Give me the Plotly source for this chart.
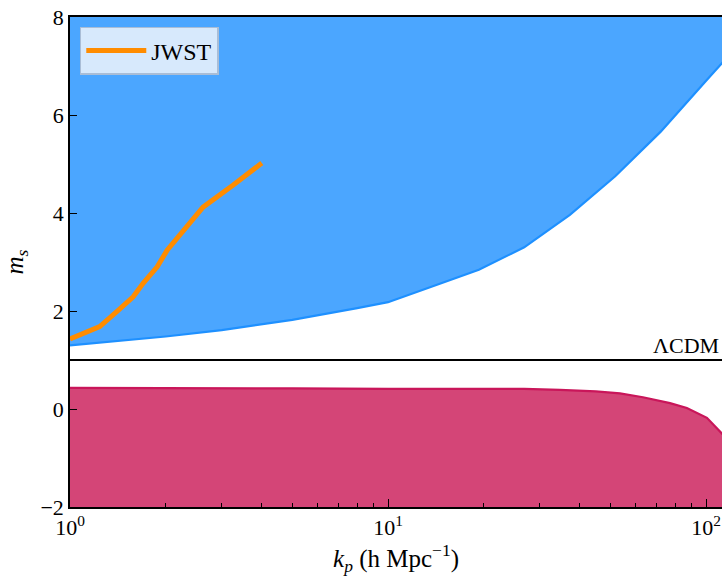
import plotly.graph_objects as go

# Upper excluded region: boundary of m_s versus k_p (region above is shaded)
k_upper = [1, 2, 3, 5, 8, 10, 13.9, 19.3, 26.8, 37.3, 51.8, 72, 100, 120]
ms_upper = [1.30, 1.48, 1.61, 1.82, 2.06, 2.18, 2.51, 2.84, 3.30, 3.96, 4.75, 5.66, 6.70, 7.27]

# Lower excluded region: boundary of m_s versus k_p (region below is shaded)
k_lower = [1, 2, 5, 10, 20, 26.8, 34.7, 45, 53.6, 63.3, 77, 87, 100.6, 112, 120]
ms_lower = [0.43, 0.43, 0.42, 0.41, 0.41, 0.41, 0.39, 0.36, 0.32, 0.24, 0.12, 0.02, -0.18, -0.49, -0.70]

# JWST curve
k_jwst = [1.0, 1.24, 1.40, 1.58, 1.70, 1.88, 2.02, 2.27, 2.62, 3.26, 4.01]
ms_jwst = [1.43, 1.68, 1.98, 2.29, 2.57, 2.90, 3.24, 3.65, 4.12, 4.57, 5.02]

LCDM_MS = 1.0
Y_MIN, Y_MAX = -2, 8
y_ticks = [-2, 0, 2, 4, 6, 8]
x_ticks = [1, 10, 100]
x_ticktext = ["10<sup>0</sup>", "10<sup>1</sup>", "10<sup>2</sup>"]

SERIF = "Liberation Serif, Times New Roman, serif"
BLUE_FILL = "rgba(30,144,255,0.8)"
BLUE_LINE = "#1E90FF"
RED_FILL = "rgba(201,22,85,0.8)"
RED_LINE = "#C9165A"
ORANGE = "#FF8C00"
FS = 22
FS_TITLE = 25

fig = go.Figure()

# shaded region above the upper boundary
fig.add_trace(go.Scatter(
    x=k_upper + k_upper[::-1],
    y=ms_upper + [Y_MAX + 1] * len(k_upper),
    fill="toself", fillcolor=BLUE_FILL, line=dict(width=0),
    mode="lines", showlegend=False, hoverinfo="skip",
))
fig.add_trace(go.Scatter(
    x=k_upper, y=ms_upper, mode="lines",
    line=dict(color=BLUE_LINE, width=2.2), showlegend=False,
))

# shaded region below the lower boundary
fig.add_trace(go.Scatter(
    x=k_lower + k_lower[::-1],
    y=ms_lower + [Y_MIN - 1] * len(k_lower),
    fill="toself", fillcolor=RED_FILL, line=dict(width=0),
    mode="lines", showlegend=False, hoverinfo="skip",
))
fig.add_trace(go.Scatter(
    x=k_lower, y=ms_lower, mode="lines",
    line=dict(color=RED_LINE, width=2.2), showlegend=False,
))

# JWST curve
fig.add_trace(go.Scatter(
    x=k_jwst, y=ms_jwst, mode="lines", name="JWST",
    line=dict(color=ORANGE, width=5),
))

# LambdaCDM reference line
fig.add_shape(type="line", xref="paper", x0=0, x1=1, yref="y",
              y0=LCDM_MS, y1=LCDM_MS, line=dict(color="black", width=2))
fig.add_annotation(text="ΛCDM", xref="paper", x=0.998, yref="y", y=LCDM_MS,
                   xanchor="right", yanchor="bottom", showarrow=False,
                   font=dict(family=SERIF, size=FS, color="black"), yshift=0)

fig.update_layout(
    width=722, height=576,
    margin=dict(l=70, r=0, t=17, b=69),
    plot_bgcolor="white", paper_bgcolor="white",
    font=dict(family=SERIF, size=FS, color="black"),
    legend=dict(
        x=0.015, y=0.98, xanchor="left", yanchor="top",
        bgcolor="rgba(222,236,252,0.95)", bordercolor="#A9BDD6", borderwidth=1.5,
        font=dict(family=SERIF, size=24, color="black"),
        itemwidth=60,
    ),
)

fig.update_xaxes(
    type="log", range=[0, 2.05],
    tickvals=x_ticks, ticktext=x_ticktext,
    ticks="inside", ticklen=8, tickwidth=1.2, tickcolor="black",
    minor=dict(ticks="inside", ticklen=4, tickwidth=1, tickcolor="black", dtick="D1", showgrid=False),
    showline=True, linecolor="black", linewidth=1.5, mirror=True,
    showgrid=False, zeroline=False,
    tickfont=dict(family=SERIF, size=FS, color="black"),
    title=dict(text="<i>k<sub>p</sub></i> (h Mpc<sup>−1</sup>)", standoff=0,
               font=dict(family=SERIF, size=FS_TITLE, color="black")),
)
fig.update_yaxes(
    range=[Y_MIN, Y_MAX], tickvals=y_ticks,
    ticks="inside", ticklen=7, tickwidth=1.2, tickcolor="black",
    showline=True, linecolor="black", linewidth=1.5, mirror=False,
    showgrid=False, zeroline=False,
    tickfont=dict(family=SERIF, size=FS, color="black"),
    title=dict(text="<i>m<sub>s</sub></i>", standoff=10,
               font=dict(family=SERIF, size=FS_TITLE, color="black")),
)

fig.write_html("out.html")
